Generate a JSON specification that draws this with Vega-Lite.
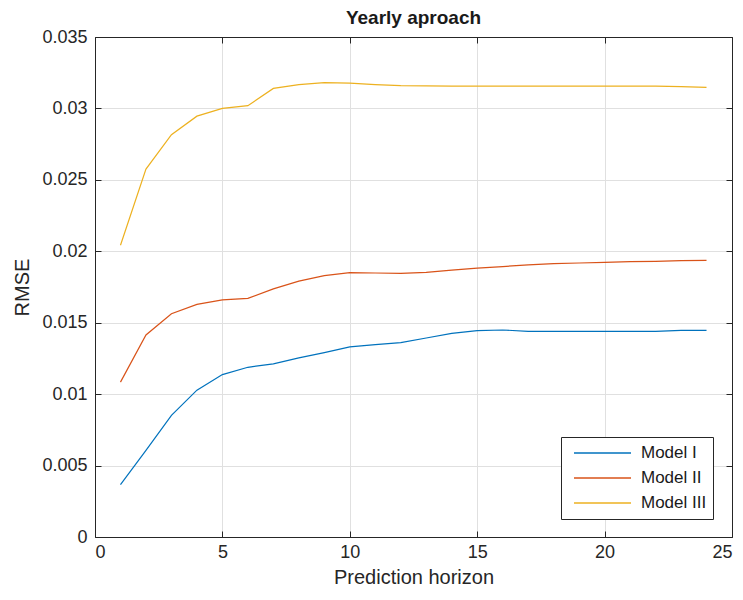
{
  "$schema": "https://vega.github.io/schema/vega-lite/v6.json",
  "autosize": {"type": "none"},
  "width": 637,
  "height": 500,
  "padding": {"left": 95, "top": 37, "right": 11, "bottom": 63},
  "background": "white",
  "title": {"text": "Yearly aproach", "font": "Liberation Sans", "fontSize": 19, "fontWeight": "bold", "color": "#1a1a1a", "offset": 0},
  "config": {
    "view": {"stroke": null},
    "font": "Liberation Sans",
    "axis": {"labelFont": "Liberation Sans", "titleFont": "Liberation Sans", "labelColor": "#262626", "titleColor": "#262626", "domainColor": "#262626", "tickColor": "#262626", "gridColor": "#e0e0e0", "gridWidth": 1, "labelFontSize": 18, "titleFontSize": 20, "titleFontWeight": "normal", "tickSize": -6}
  },
  "data": {"values": [
    {"h": 1, "m": "Model I", "v": 0.00367}, {"h": 2, "m": "Model I", "v": 0.00607}, {"h": 3, "m": "Model I", "v": 0.00852}, {"h": 4, "m": "Model I", "v": 0.01028},
    {"h": 5, "m": "Model I", "v": 0.01137}, {"h": 6, "m": "Model I", "v": 0.01188}, {"h": 7, "m": "Model I", "v": 0.01212}, {"h": 8, "m": "Model I", "v": 0.01254},
    {"h": 9, "m": "Model I", "v": 0.01291}, {"h": 10, "m": "Model I", "v": 0.01331}, {"h": 11, "m": "Model I", "v": 0.01347}, {"h": 12, "m": "Model I", "v": 0.0136},
    {"h": 13, "m": "Model I", "v": 0.01393}, {"h": 14, "m": "Model I", "v": 0.01425}, {"h": 15, "m": "Model I", "v": 0.01444}, {"h": 16, "m": "Model I", "v": 0.01449},
    {"h": 17, "m": "Model I", "v": 0.0144}, {"h": 18, "m": "Model I", "v": 0.0144}, {"h": 19, "m": "Model I", "v": 0.0144}, {"h": 20, "m": "Model I", "v": 0.0144},
    {"h": 21, "m": "Model I", "v": 0.0144}, {"h": 22, "m": "Model I", "v": 0.0144}, {"h": 23, "m": "Model I", "v": 0.01446}, {"h": 24, "m": "Model I", "v": 0.01446},
    {"h": 1, "m": "Model II", "v": 0.01084}, {"h": 2, "m": "Model II", "v": 0.01414}, {"h": 3, "m": "Model II", "v": 0.01563}, {"h": 4, "m": "Model II", "v": 0.01628},
    {"h": 5, "m": "Model II", "v": 0.0166}, {"h": 6, "m": "Model II", "v": 0.0167}, {"h": 7, "m": "Model II", "v": 0.01737}, {"h": 8, "m": "Model II", "v": 0.01791},
    {"h": 9, "m": "Model II", "v": 0.0183}, {"h": 10, "m": "Model II", "v": 0.0185}, {"h": 11, "m": "Model II", "v": 0.01848}, {"h": 12, "m": "Model II", "v": 0.01846},
    {"h": 13, "m": "Model II", "v": 0.01853}, {"h": 14, "m": "Model II", "v": 0.01868}, {"h": 15, "m": "Model II", "v": 0.01882}, {"h": 16, "m": "Model II", "v": 0.01893},
    {"h": 17, "m": "Model II", "v": 0.01905}, {"h": 18, "m": "Model II", "v": 0.01914}, {"h": 19, "m": "Model II", "v": 0.01918}, {"h": 20, "m": "Model II", "v": 0.01923},
    {"h": 21, "m": "Model II", "v": 0.01928}, {"h": 22, "m": "Model II", "v": 0.0193}, {"h": 23, "m": "Model II", "v": 0.01935}, {"h": 24, "m": "Model II", "v": 0.01937},
    {"h": 1, "m": "Model III", "v": 0.02042}, {"h": 2, "m": "Model III", "v": 0.02575}, {"h": 3, "m": "Model III", "v": 0.02816}, {"h": 4, "m": "Model III", "v": 0.02946},
    {"h": 5, "m": "Model III", "v": 0.03}, {"h": 6, "m": "Model III", "v": 0.03019}, {"h": 7, "m": "Model III", "v": 0.0314}, {"h": 8, "m": "Model III", "v": 0.03167},
    {"h": 9, "m": "Model III", "v": 0.03181}, {"h": 10, "m": "Model III", "v": 0.03177}, {"h": 11, "m": "Model III", "v": 0.03167}, {"h": 12, "m": "Model III", "v": 0.0316},
    {"h": 13, "m": "Model III", "v": 0.03158}, {"h": 14, "m": "Model III", "v": 0.03156}, {"h": 15, "m": "Model III", "v": 0.03156}, {"h": 16, "m": "Model III", "v": 0.03156},
    {"h": 17, "m": "Model III", "v": 0.03156}, {"h": 18, "m": "Model III", "v": 0.03156}, {"h": 19, "m": "Model III", "v": 0.03156}, {"h": 20, "m": "Model III", "v": 0.03156},
    {"h": 21, "m": "Model III", "v": 0.03156}, {"h": 22, "m": "Model III", "v": 0.03156}, {"h": 23, "m": "Model III", "v": 0.03152}, {"h": 24, "m": "Model III", "v": 0.03147}
  ]},
  "layer": [
    {
      "mark": {"type": "line", "strokeWidth": 1.2},
      "encoding": {
        "x": {"field": "h", "type": "quantitative", "scale": {"domain": [0, 25], "nice": false, "zero": false},
              "axis": {"title": "Prediction horizon", "values": [0, 5, 10, 15, 20, 25], "grid": true, "labelPadding": 12, "titlePadding": 6, "format": "d"}},
        "y": {"field": "v", "type": "quantitative", "scale": {"domain": [0, 0.035], "nice": false},
              "axis": {"title": "RMSE", "values": [0, 0.005, 0.01, 0.015, 0.02, 0.025, 0.03, 0.035], "grid": true, "labelPadding": 14, "labelExpr": "datum.value == 0 ? '0' : format(datum.value, '.3~f')", "titlePadding": 9}},
        "color": {"field": "m", "type": "nominal",
                  "scale": {"domain": ["Model I", "Model II", "Model III"], "range": ["#0072BD", "#D95319", "#EDB120"]},
                  "legend": {"title": null, "orient": "none", "legendX": 466, "legendY": 400, "symbolType": "stroke", "symbolSize": 3249, "symbolStrokeWidth": 1.3, "symbolOffset": 6, "clipHeight": 20,
                             "labelFontSize": 17, "labelFont": "Liberation Sans", "labelColor": "#1a1a1a", "rowPadding": 5, "padding": 6, "strokeColor": "#262626", "fillColor": "white", "labelOffset": 9}}
      }
    },
    {
      "mark": {"type": "line", "opacity": 0},
      "encoding": {
        "x": {"field": "h", "type": "quantitative", "axis": {"orient": "top", "title": null, "labels": false, "grid": false, "values": [0, 5, 10, 15, 20, 25]}},
        "y": {"field": "v", "type": "quantitative", "axis": {"orient": "right", "title": null, "labels": false, "grid": false, "values": [0, 0.005, 0.01, 0.015, 0.02, 0.025, 0.03, 0.035]}},
        "detail": {"field": "m"}
      }
    }
  ],
  "resolve": {"axis": {"x": "independent", "y": "independent"}}
}
